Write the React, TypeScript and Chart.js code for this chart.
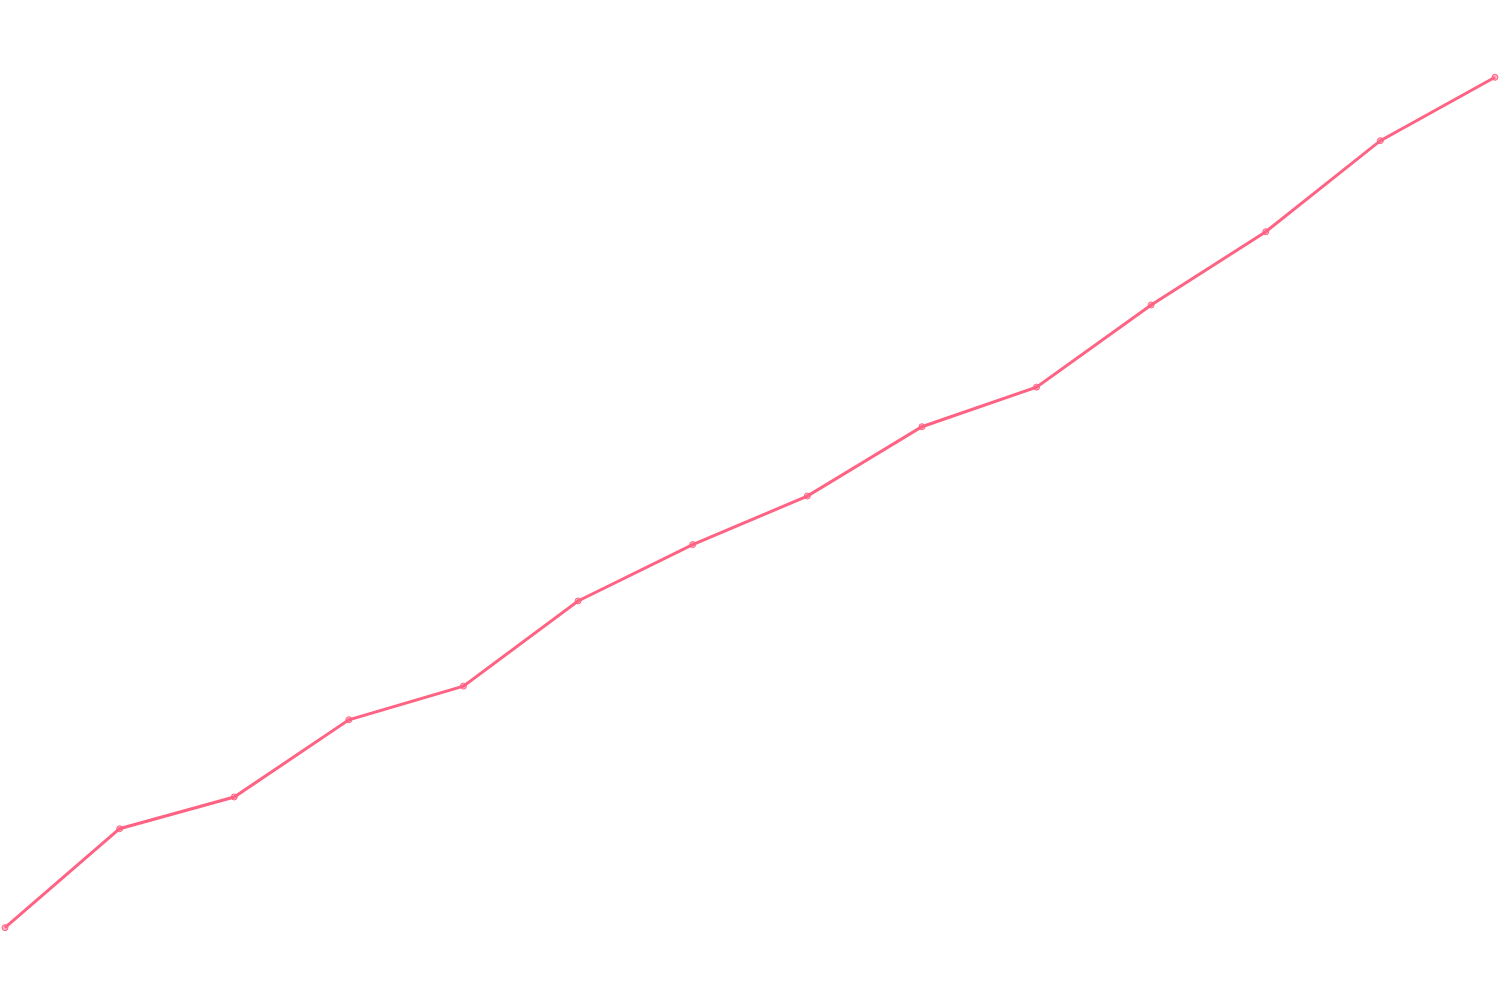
import { useEffect, useRef } from 'react';
import { Chart, ChartConfiguration, registerables } from 'chart.js';

Chart.register(...registerables);

const labels = ['1', '2', '3', '4', '5', '6', '7', '8', '9', '10', '11', '12', '13', '14'];
const values = [6.8, 16.8, 20.0, 27.8, 31.2, 39.8, 45.5, 50.4, 57.4, 61.4, 69.7, 77.1, 86.3, 92.7];
const yMin = 0;
const yMax = 100;

export default function App() {
  const canvasRef = useRef<HTMLCanvasElement>(null);
  const chartRef = useRef<Chart | null>(null);

  useEffect(() => {
    document.body.style.margin = '0';
    if (!canvasRef.current) return;
    if (chartRef.current) chartRef.current.destroy();

    const ctx = canvasRef.current.getContext('2d');
    if (!ctx) return;

    const config: ChartConfiguration = {
      type: 'line',
      data: {
        labels,
        datasets: [{
          data: values,
          borderColor: 'rgb(255, 99, 132)',
          backgroundColor: 'rgba(255, 99, 132, 0.5)',
          borderWidth: 3,
          pointRadius: 3,
          pointBorderWidth: 1,
          tension: 0,
        }]
      },
      options: {
        responsive: false,
        maintainAspectRatio: false,
        animation: false,
        layout: { padding: 5 },
        scales: {
          x: { display: false },
          y: { display: false, min: yMin, max: yMax },
        },
        plugins: {
          legend: { display: false },
          tooltip: { enabled: false },
        },
      },
    };

    chartRef.current = new Chart(ctx, config);

    return () => {
      if (chartRef.current) {
        chartRef.current.destroy();
        chartRef.current = null;
      }
    };
  }, []);

  return (
    <div style={{ width: 1500, height: 1000, background: '#fff' }}>
      <canvas ref={canvasRef} width={1500} height={1000} style={{ display: 'block' }} />
    </div>
  );
}
